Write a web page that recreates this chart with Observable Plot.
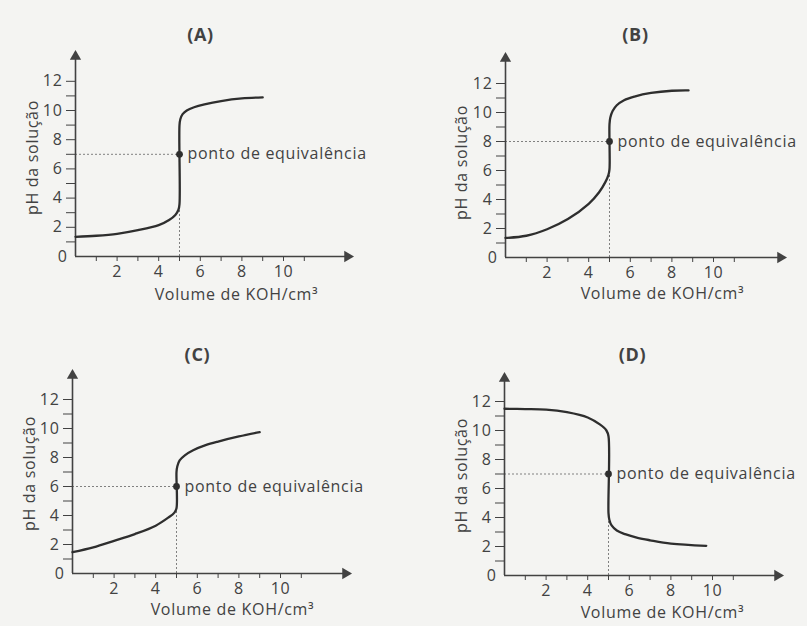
<!DOCTYPE html>
<html><head><meta charset="utf-8">
<script src="https://cdn.jsdelivr.net/npm/d3@7"></script>
<script src="https://cdn.jsdelivr.net/npm/@observablehq/plot@0.6"></script>
<style>
html,body{margin:0;padding:0;background:#f4f4f2;}
#chart{position:relative;width:807px;height:626px;overflow:hidden;background:#f4f4f2;}
#chart > div, #chart > svg{position:absolute;}
#chart text{letter-spacing:0.7px;}
</style></head><body><div id="chart"></div>
<script>
// ---- data ----
const titles = ["(A)", "(B)", "(C)", "(D)"];
const xAxisLabel = "Volume de KOH/cm³";
const yAxisLabel = "pH da solução";
const eqLabel = "ponto de equivalência";
const xTicks = [1, 2, 3, 4, 5, 6, 7, 8, 9, 10, 11];
const yTicks = [1, 2, 3, 4, 5, 6, 7, 8, 9, 10, 11, 12];
const yZeroLabel = [0];

const volA = [0, 1, 2, 3, 4, 4.5, 4.8, 4.95, 5, 5, 5.04, 5.15, 5.35, 5.7, 6.2, 7, 8, 9];
const phA  = [1.35, 1.42, 1.55, 1.8, 2.15, 2.5, 2.85, 3.2, 3.6, 9.0, 9.4, 9.75, 10.0, 10.22, 10.42, 10.65, 10.83, 10.9];

const volB = [0, 1, 2, 3, 4, 4.5, 4.8, 4.95, 5, 5, 5.04, 5.15, 5.35, 5.7, 6.2, 7, 8, 8.8];
const phB  = [1.35, 1.5, 1.95, 2.65, 3.7, 4.5, 5.2, 5.7, 6.1, 9.2, 9.65, 10.1, 10.5, 10.85, 11.1, 11.35, 11.5, 11.52];

const volC = [0, 1, 2, 3, 4, 4.6, 4.9, 5, 5, 5.04, 5.15, 5.4, 5.8, 6.4, 7, 8, 9];
const phC  = [1.47, 1.8, 2.25, 2.72, 3.3, 3.85, 4.2, 4.5, 7.0, 7.4, 7.8, 8.15, 8.5, 8.85, 9.1, 9.45, 9.75];

const volD = [0, 1, 2, 3, 4, 4.6, 4.9, 5, 5, 5.04, 5.15, 5.4, 5.8, 6.4, 7, 8, 9.7];
const phD  = [11.5, 11.48, 11.44, 11.26, 10.9, 10.4, 10.0, 9.6, 4.3, 3.85, 3.45, 3.1, 2.85, 2.6, 2.43, 2.2, 2.05];

const eqVolume = [5, 5, 5, 5];
const eqPH = [7, 8, 6, 7];

const curves = [[volA, phA], [volB, phB], [volC, phC], [volD, phD]];

// ---- layout (page pixels) ----
const layout = [
  {left: 0,   top: 0,   w: 403, h: 313, ox: 75,  oy: 256, sx: 20.8, sy: 14.6, tipX: 350, tipY: 53,  titleX: 200, titleY: 35,  yLabX: 32,  yLabY: 157, xLabX: 236, xLabY: 294},
  {left: 403, top: 0,   w: 404, h: 313, ox: 505, oy: 257, sx: 20.8, sy: 14.5, tipX: 783, tipY: 55,  titleX: 635, titleY: 35,  yLabX: 461, yLabY: 162, xLabX: 662, xLabY: 293},
  {left: 0,   top: 313, w: 403, h: 313, ox: 72,  oy: 573, sx: 20.8, sy: 14.5, tipX: 348, tipY: 372, titleX: 197, titleY: 355, yLabX: 29,  yLabY: 473, xLabX: 232, xLabY: 609},
  {left: 403, top: 313, w: 404, h: 313, ox: 504, oy: 575, sx: 20.8, sy: 14.5, tipX: 780, tipY: 375, titleX: 632, titleY: 355, yLabX: 461, yLabY: 475, xLabX: 662, xLabY: 612}
];

const ink = "#424242";
const font = "'Open Sans', sans-serif";
const chart = document.getElementById("chart");

layout.forEach((L, i) => {
  const [vols, phs] = curves[i];
  const data = vols.map((v, k) => ({v, ph: phs[k]}));
  const xmax = (L.tipX - L.ox) / L.sx;
  const ymax = (L.oy - L.tipY) / L.sy;
  const mL = L.ox - L.left, mR = L.left + L.w - L.tipX;
  const mT = L.tipY - L.top, mB = L.top + L.h - L.oy;
  const eq = [{v: eqVolume[i], ph: eqPH[i]}];
  const rel = (X, Y) => ({dx: X - L.ox, dy: Y - L.tipY});

  const plot = Plot.plot({
    width: L.w, height: L.h,
    marginLeft: mL, marginRight: mR, marginTop: mT, marginBottom: mB,
    style: {fontFamily: font, fontSize: "16px", color: ink, background: "transparent", overflow: "visible"},
    x: {domain: [0, xmax]},
    y: {domain: [0, ymax]},
    marks: [
      Plot.axisX({ticks: xTicks, tickSize: 5, tickPadding: 4, tickFormat: d => d % 2 === 0 ? d : "", label: null, stroke: ink, fill: ink, fontSize: 16}),
      Plot.axisY({ticks: yTicks, tickSize: 9, tickPadding: 4, tickFormat: d => d % 2 === 0 ? d : "", label: null, stroke: ink, fill: ink, fontSize: 16}),
      Plot.axisY({ticks: yZeroLabel, tickSize: 0, tickPadding: 8, tickFormat: d => d, label: null, fill: ink, fontSize: 16}),
      // dotted guides
      Plot.ruleY(eq, {y: "ph", x1: 0, x2: "v", stroke: "#808080", strokeDasharray: "2,2", strokeWidth: 1}),
      Plot.ruleX(eq, {x: "v", y1: 0, y2: "ph", stroke: "#808080", strokeDasharray: "2,2", strokeWidth: 1}),
      // axes lines with arrows
      Plot.ruleY([0], {x1: 0, x2: xmax, stroke: ink, strokeWidth: 1.6}),
      Plot.ruleX([0], {y1: 0, y2: ymax, stroke: ink, strokeWidth: 1.6}),
      Plot.dot([0], {x: xmax, y: 0, symbol: "triangle", r: 4.2, rotate: 90, fill: ink, stroke: "none", dx: -3}),
      Plot.dot([0], {x: 0, y: ymax, symbol: "triangle", r: 4.2, rotate: 0, fill: ink, stroke: "none", dy: 3}),
      // curve
      Plot.line(data, {x: "v", y: "ph", curve: "catmull-rom", stroke: "#2e2e2e", strokeWidth: 2.3}),
      Plot.dot(eq, {x: "v", y: "ph", r: 3.4, fill: "#2e2e2e"}),
      Plot.text(eq, {x: "v", y: "ph", text: () => eqLabel, dx: 8, textAnchor: "start", fill: ink, fontSize: 16}),
      // titles and axis labels
      Plot.text([titles[i]], {frameAnchor: "top-left", ...rel(L.titleX, L.titleY), textAnchor: "middle", lineAnchor: "middle", fontWeight: "bold", fontSize: 18, fill: ink}),
      Plot.text([xAxisLabel], {frameAnchor: "top-left", ...rel(L.xLabX, L.xLabY), textAnchor: "middle", lineAnchor: "middle", fontSize: 16, fill: ink}),
      Plot.text([yAxisLabel], {frameAnchor: "top-left", ...rel(L.yLabX, L.yLabY), textAnchor: "middle", lineAnchor: "middle", rotate: -90, fontSize: 16, fill: ink})
    ]
  });
  plot.style.left = L.left + "px";
  plot.style.top = L.top + "px";
  chart.appendChild(plot);
});
</script>
</body></html>
